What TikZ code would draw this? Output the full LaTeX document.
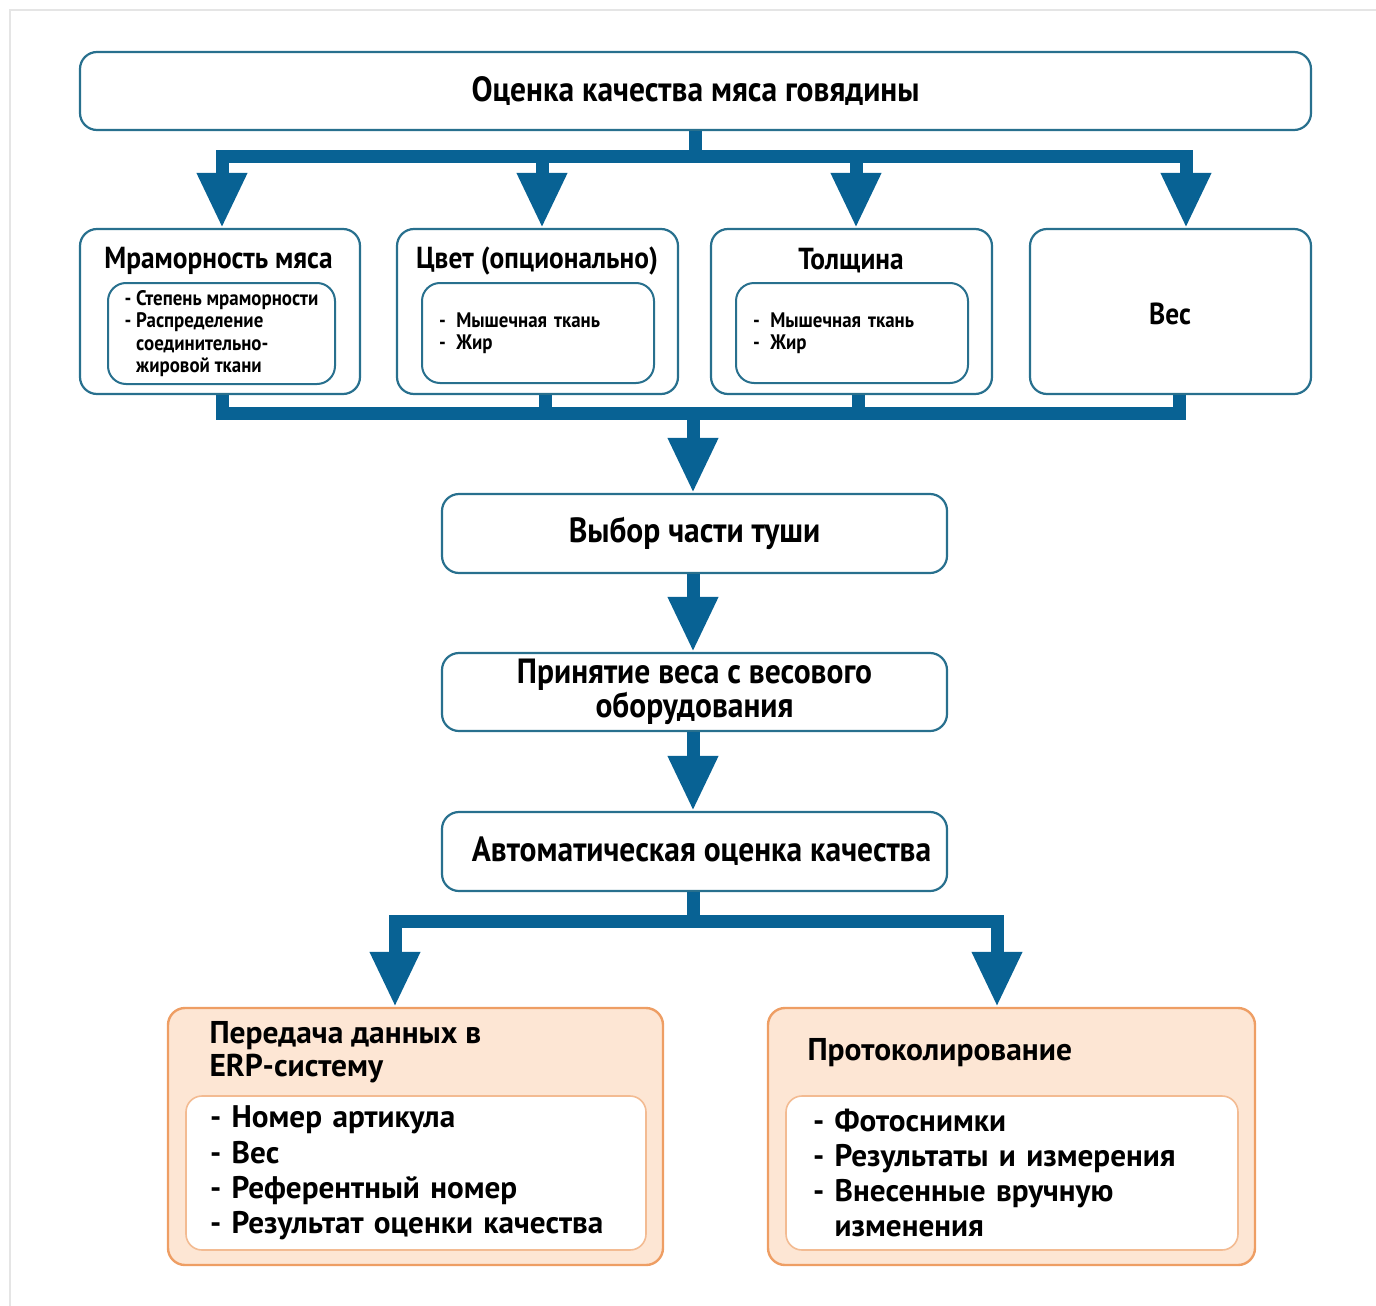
\documentclass[tikz,border=0pt]{standalone}
\usepackage{fontspec}
\setmainfont{PT Sans}[FakeStretch=0.9]
\newfontfamily\widesans{PT Sans}
\usetikzlibrary{arrows.meta}

\definecolor{flowblue}{RGB}{8,98,148}
\definecolor{frameblue}{RGB}{40,112,142}
\definecolor{peach}{RGB}{253,230,212}
\definecolor{apricot}{RGB}{238,158,100}

\begin{document}
\begin{tikzpicture}[x=1pt,y=-1pt,
    box/.style={draw=frameblue,line width=2.2pt,rounded corners=17pt,fill=white,inner sep=0pt},
    inbox/.style={draw=frameblue,line width=2pt,rounded corners=18pt,fill=white,align=left,inner ysep=0pt},
    obox/.style={draw=apricot,line width=2.4pt,rounded corners=17pt,fill=peach,inner sep=0pt},
    oinbox/.style={draw=apricot!70,line width=1.6pt,rounded corners=16pt,fill=white,align=left,inner ysep=0pt},
    bar/.style={draw=flowblue,line width=13pt,line join=miter},
    arr/.style={-{Triangle[length=55pt,width=47pt]}},
    big/.style={font=\bfseries\fontsize{35}{33}\selectfont},
    mid/.style={font=\bfseries\fontsize{30.4}{31}\selectfont},
    small/.style={font=\bfseries\fontsize{21}{22.5}\selectfont},
    otitle/.style={font=\widesans\bfseries\fontsize{31.5}{33.5}\selectfont},
    olist/.style={font=\widesans\bfseries\fontsize{31.2}{35.3}\selectfont}]

    \useasboundingbox (0,0) rectangle (1376,1306);
    %\draw [help lines,step=50] (0,0) grid (1376,1306);
    \draw [black!10,line width=2pt] (10,1306) -- (10,10) -- (1376,10);

    % top
    \node[box,minimum width=1231,minimum height=78,big] (top) at (695.5,91) {Оценка качества мяса говядины};

    % four criteria
    \node[box,minimum width=280,minimum height=165] (mram) at (220,311.5) {};
    \node[box,minimum width=281,minimum height=165] (cvet) at (537.5,311.5) {};
    \node[box,minimum width=281,minimum height=165] (tol) at (851.5,311.5) {};
    \node[box,minimum width=281,minimum height=165] (ves) at (1170.5,311.5) {};

    \node[mid] (mramt) at (218.5,261) {Мраморность мяса};
    \node[mid] (cvett) at (537,261) {Цвет (опционально)};
    \node[mid] (tolt) at (851,261) {Толщина};
    \node[mid] (vest) at (1170,314) {Вес};

    \node[inbox,small,inner xsep=2pt,minimum width=227,minimum height=101] (mramin) at (221.5,333.5)
        {- Степень мраморности\\- Распределение\\\phantom{- }соединительно-\\\phantom{- }жировой ткани};
    \node[inbox,small,inner xsep=17pt,text width=198pt,minimum height=100] (cvetin) at (538,333)
        {-\enspace Мышечная ткань\\-\enspace Жир};
    \node[inbox,small,inner xsep=17pt,text width=198pt,minimum height=100] (tolin) at (852,333)
        {-\enspace Мышечная ткань\\-\enspace Жир};

    % chain
    \node[box,minimum width=505,minimum height=79,big] (vybor) at (694.5,533.5) {Выбор части туши};
    \node[box,minimum width=505,minimum height=78,big,align=center] (prin) at (694.5,692)
        {Принятие веса с весового\\[1pt]оборудования};
    \node[box,minimum width=505,minimum height=79,big] (auto) at (694.5,851.5) {\hspace{14pt}Автоматическая оценка качества};

    % output
    \node[obox,minimum width=495,minimum height=257] (erp) at (415.5,1136.5) {};
    \node[obox,minimum width=487,minimum height=257] (prot) at (1011.5,1136.5) {};

    \node[otitle,anchor=west,align=left] (erpt) at (206,1052) {Передача данных в\\ERP-систему};
    \node[otitle,anchor=west] (prott) at (804,1053) {Протоколирование};

    \node[oinbox,olist,inner xsep=24pt,text width=412pt,minimum height=154] (erpin) at (416,1173)
        {- Номер артикула\\- Вес\\- Референтный номер\\- Результат оценки качества};
    \node[oinbox,olist,inner xsep=27pt,text width=398pt,minimum height=154] (protin) at (1012,1173)
        {- Фотоснимки\\- Результаты и измерения\\- Внесенные вручную\\\phantom{- }изменения};

    % arrows top
    \draw[bar,arr] (top.south) -- ++(0,25) -| ([xshift=2]mram.north);
    \draw[bar,arr] (top.south) ++(0,25) -| ([xshift=4.5]cvet.north);
    \draw[bar,arr] (top.south) ++(0,25) -| ([xshift=4.5]tol.north);
    \draw[bar,arr] (top.south) ++(0,25) -| ([xshift=15.5]ves.north);

    % arrows collect
    \coordinate (jn) at (693,413.5);
    \draw[bar] ([xshift=2]mram.south) |- (jn);
    \draw[bar] ([xshift=9]ves.south) |- (jn);
    \draw[bar] ([xshift=7.5]cvet.south) -- ([xshift=7.5]cvet.south |- jn);
    \draw[bar] ([xshift=6.5]tol.south) -- ([xshift=6.5]tol.south |- jn);
    \draw[bar,arr] (jn) -- (vybor.north -| jn);

    \draw[bar,arr] (vybor.south -| jn) -- (prin.north -| jn);
    \draw[bar,arr] (prin.south -| jn) -- (auto.north -| jn);

    % split
    \coordinate (sp) at (693,921.5);
    \draw[bar] (auto.south -| sp) -- (sp);
    \draw[bar,arr] (sp) -| ([xshift=-20.5]erp.north);
    \draw[bar,arr] (sp) -| ([xshift=-14.5]prot.north);

\end{tikzpicture}
\end{document}
